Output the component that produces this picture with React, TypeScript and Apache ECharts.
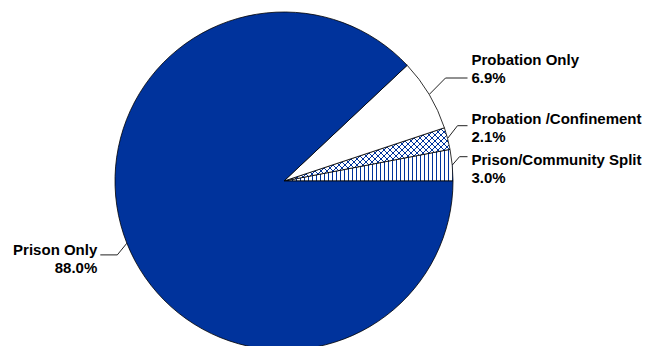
import React, { useEffect, useRef } from "react";
import * as echarts from "echarts";

const categories = [
  "Prison/Community Split",
  "Probation /Confinement",
  "Probation Only",
  "Prison Only",
];
const percents = [3.0, 2.1, 6.9, 88.0];

const BLUE = "#00339C";

function makeVertical(): HTMLCanvasElement {
  const c = document.createElement("canvas");
  c.width = 4;
  c.height = 4;
  const ctx = c.getContext("2d")!;
  ctx.fillStyle = "#fff";
  ctx.fillRect(0, 0, 4, 4);
  ctx.fillStyle = BLUE;
  ctx.fillRect(0, 0, 1, 4);
  return c;
}

function makeCross(): HTMLCanvasElement {
  const c = document.createElement("canvas");
  c.width = 6;
  c.height = 6;
  const ctx = c.getContext("2d")!;
  ctx.fillStyle = "#fff";
  ctx.fillRect(0, 0, 6, 6);
  ctx.fillStyle = BLUE;
  for (let i = 0; i < 6; i++) {
    ctx.fillRect(i, i, 1, 1);
    ctx.fillRect(5 - i, i, 1, 1);
  }
  return c;
}

// label placement (layout only)
const labelPos = [
  { x: 467.5, y: 126.7, align: "left", padding: [24, 0, 0, 4], len2: 8 },
  { x: 467.5, y: 105.7, align: "left", padding: [4, 0, 0, 4], len2: 10 },
  { x: 467.5, y: 50.5, align: "left", padding: [0, 0, 19, 4], len2: 22 },
  { x: 100.3, y: 233.4, align: "right", padding: [7, 3, 0, 0], len2: 17 },
];

export default function App() {
  const ref = useRef<HTMLDivElement>(null);
  useEffect(() => {
    if (!ref.current) return;
    const chart = echarts.init(ref.current, undefined, { renderer: "svg" });
    const fills: any[] = [
      { image: makeVertical(), repeat: "repeat" },
      { image: makeCross(), repeat: "repeat" },
      "#ffffff",
      BLUE,
    ];
    const data = categories.map((name, i) => ({
      name,
      value: percents[i],
      itemStyle: { color: fills[i] },
      label: { padding: labelPos[i].padding },
      labelLine: { length2: labelPos[i].len2 },
    }));
    chart.setOption({
      animation: false,
      series: [
        {
          type: "pie",
          center: [284, 181],
          radius: 169,
          startAngle: 0,
          clockwise: false,
          avoidLabelOverlap: false,
          data,
          itemStyle: { borderColor: "#000", borderWidth: 0.8 },
          emphasis: { disabled: true },
          label: {
            show: true,
            position: "outside",
            overflow: "none",
            width: 200,
            color: "#000",
            fontFamily: "Arial, 'Liberation Sans', sans-serif",
            fontWeight: "bold",
            fontSize: 15,
            lineHeight: 18,
            backgroundColor: "transparent",
            formatter: (p: any) => `${p.name}\n${Number(p.value).toFixed(1)}%`,
          },
          labelLine: {
            show: true,
            length: 10,
            lineStyle: { color: "#222", width: 1 },
          },
          labelLayout: (p: any) => {
            const lp = labelPos[p.dataIndex];
            return {
              x: lp.x,
              y: lp.y,
              align: lp.align,
              verticalAlign: "top",
            };
          },
        },
      ],
    });
    return () => chart.dispose();
  }, []);
  return (
    <div
      ref={ref}
      style={{
        position: "fixed",
        left: 0,
        top: 0,
        width: 656,
        height: 346,
        background: "#fff",
      }}
    />
  );
}
